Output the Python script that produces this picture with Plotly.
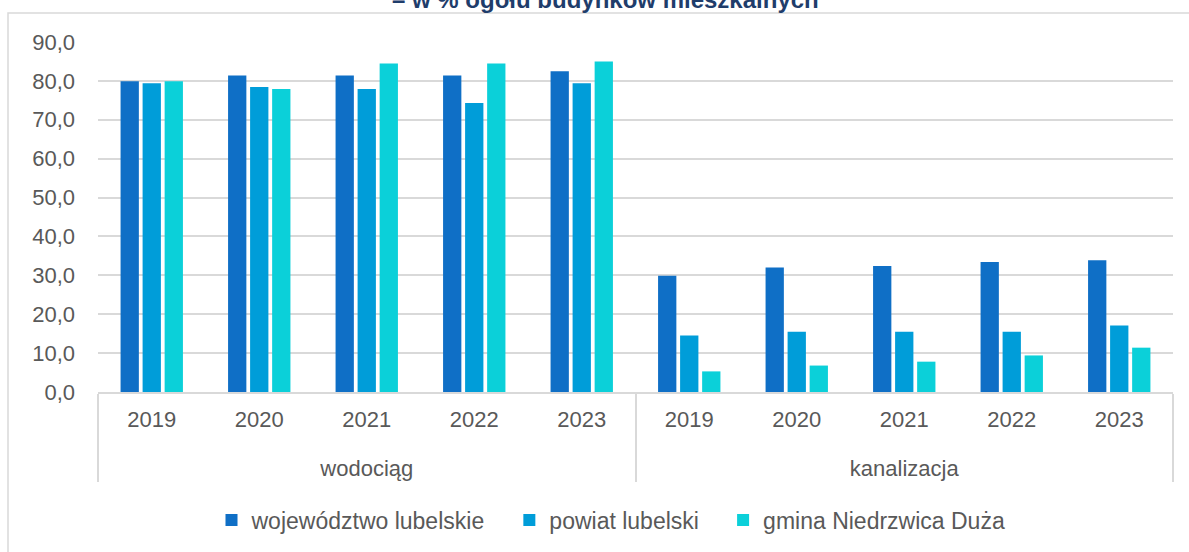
import plotly.graph_objects as go

# Share of residential buildings with water supply / sewage installations
groups = ["wodociąg"] * 5 + ["kanalizacja"] * 5
years = ["2019", "2020", "2021", "2022", "2023"] * 2

wojewodztwo = [79.9, 81.4, 81.4, 81.4, 82.5, 29.9, 32.0, 32.4, 33.4, 33.9]
powiat = [79.4, 78.4, 77.9, 74.3, 79.4, 14.5, 15.5, 15.5, 15.5, 17.1]
gmina = [79.9, 77.9, 84.5, 84.5, 85.0, 5.3, 6.8, 7.8, 9.4, 11.4]

series = [
    ("województwo lubelskie", wojewodztwo, "#0F6FC6"),
    ("powiat lubelski", powiat, "#009DD9"),
    ("gmina Niedrzwica Duża", gmina, "#0BD0D9"),
]

title_tail = "– w % ogółu budynków mieszkalnych"

W, H = 1189, 552
L, R, T, B = 98, 16, 42, 160
pw, ph = W - L - R, H - T - B

font_family = "Liberation Sans, Arial, sans-serif"
grey_text = "#595959"
grid = "#D9D9D9"
NBSP = "\u00a0"

# year labels carry an empty second line so the group row sits lower
year_labels = [y + "<br>" + NBSP for y in years]

fig = go.Figure()
for i, (name, vals, color) in enumerate(series):
    label = name if i == len(series) - 1 else name + NBSP * 3
    fig.add_trace(go.Bar(
        name=label,
        x=[groups, year_labels],
        y=vals,
        marker=dict(color=color, line=dict(width=0)),
    ))


def px_x(px):
    return (px - L) / pw


def px_y(py):
    return 1 - (py - T) / ph


fig.update_layout(
    width=W,
    height=H,
    margin=dict(l=L, r=R, t=T, b=B, pad=0, autoexpand=False),
    paper_bgcolor="white",
    plot_bgcolor="white",
    barmode="group",
    bargap=0.385,
    bargroupgap=0.17,
    separators=", ",
    font=dict(family=font_family, size=22, color=grey_text),
    showlegend=True,
    legend=dict(
        orientation="h",
        x=px_x(611),
        xanchor="center",
        y=px_y(520),
        yanchor="middle",
        font=dict(family=font_family, size=23, color=grey_text),
        itemwidth=30,
        tracegroupgap=0,
        bgcolor="rgba(0,0,0,0)",
    ),
    xaxis=dict(
        type="multicategory",
        showline=True,
        linecolor=grid,
        linewidth=2,
        showdividers=True,
        dividercolor=grid,
        dividerwidth=2,
        showgrid=False,
        ticks="",
        ticklabelstandoff=7,
        tickfont=dict(family=font_family, size=22, color=grey_text),
    ),
    yaxis=dict(
        range=[0, 90],
        dtick=10,
        tickformat=".1f",
        showgrid=True,
        gridcolor=grid,
        gridwidth=1.5,
        zeroline=False,
        showline=False,
        ticks="",
        ticklabelstandoff=22,
        tickfont=dict(family=font_family, size=22, color=grey_text),
    ),
    shapes=[
        dict(
            type="rect",
            xref="paper", yref="paper",
            x0=px_x(8), x1=px_x(1250),
            y0=px_y(620), y1=px_y(13),
            line=dict(color=grid, width=1.5),
            fillcolor="rgba(0,0,0,0)",
            layer="below",
        )
    ],
    annotations=[
        dict(
            text="<b>" + title_tail + "</b>",
            xref="paper", yref="paper",
            x=px_x(605), xanchor="center",
            y=px_y(14), yanchor="bottom",
            showarrow=False,
            borderpad=0,
            font=dict(family=font_family, size=24, color="#1F3D6B"),
        )
    ],
)

fig.write_html("out.html")
